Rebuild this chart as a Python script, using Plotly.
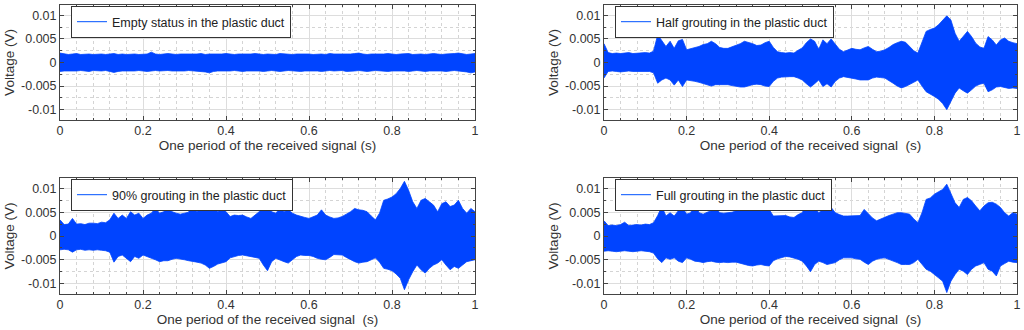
import plotly.graph_objects as go

# ---------------- data ----------------
time_s = [round(i * 0.01, 2) for i in range(101)]

legend_names = [
    "Empty status in the plastic duct",
    "Half grouting in the plastic duct",
    "90% grouting in the plastic duct",
    "Full grouting in the plastic duct",
]
x_titles = [
    "One period of the received signal (s)",
    "One period of the received signal  (s)",
    "One period of the received signal  (s)",
    "One period of the received signal  (s)",
]

# upper / lower envelope of each signal (V)
empty_upper = [0.0020, 0.0018, 0.0017, 0.0018, 0.0019, 0.0017, 0.0018, 0.0018, 0.0017, 0.0018,
               0.0018, 0.0017, 0.0018, 0.0019, 0.0017, 0.0018, 0.0017, 0.0018, 0.0018, 0.0017,
               0.0018, 0.0018, 0.0022, 0.0018, 0.0017, 0.0018, 0.0019, 0.0018, 0.0017, 0.0018,
               0.0018, 0.0017, 0.0018, 0.0018, 0.0019, 0.0017, 0.0018, 0.0018, 0.0017, 0.0018,
               0.0019, 0.0018, 0.0017, 0.0018, 0.0018, 0.0017, 0.0018, 0.0019, 0.0018, 0.0017,
               0.0018, 0.0018, 0.0017, 0.0019, 0.0018, 0.0018, 0.0017, 0.0018, 0.0018, 0.0019,
               0.0018, 0.0017, 0.0018, 0.0018, 0.0017, 0.0019, 0.0018, 0.0018, 0.0017, 0.0018,
               0.0018, 0.0019, 0.0020, 0.0018, 0.0017, 0.0018, 0.0018, 0.0017, 0.0018, 0.0019,
               0.0018, 0.0017, 0.0018, 0.0018, 0.0019, 0.0017, 0.0018, 0.0018, 0.0017, 0.0018,
               0.0019, 0.0018, 0.0017, 0.0018, 0.0018, 0.0019, 0.0020, 0.0018, 0.0017, 0.0018,
               0.0019]
empty_lower = [-0.0019, -0.0018, -0.0017, -0.0018, -0.0018, -0.0017, -0.0018, -0.0019, -0.0017, -0.0018,
               -0.0018, -0.0017, -0.0019, -0.0021, -0.0019, -0.0018, -0.0017, -0.0018, -0.0018, -0.0017,
               -0.0018, -0.0019, -0.0018, -0.0017, -0.0018, -0.0018, -0.0017, -0.0018, -0.0019, -0.0018,
               -0.0018, -0.0017, -0.0018, -0.0018, -0.0019, -0.0020, -0.0022, -0.0019, -0.0018, -0.0017,
               -0.0018, -0.0018, -0.0017, -0.0018, -0.0019, -0.0018, -0.0017, -0.0018, -0.0018, -0.0019,
               -0.0018, -0.0017, -0.0018, -0.0019, -0.0018, -0.0017, -0.0018, -0.0018, -0.0019, -0.0018,
               -0.0017, -0.0018, -0.0018, -0.0019, -0.0018, -0.0017, -0.0018, -0.0018, -0.0017, -0.0019,
               -0.0018, -0.0018, -0.0017, -0.0018, -0.0019, -0.0018, -0.0017, -0.0018, -0.0018, -0.0019,
               -0.0018, -0.0017, -0.0018, -0.0018, -0.0019, -0.0018, -0.0017, -0.0018, -0.0019, -0.0018,
               -0.0017, -0.0018, -0.0018, -0.0019, -0.0018, -0.0017, -0.0018, -0.0019, -0.0020, -0.0022,
               -0.0020]

half_upper = [0.0040, 0.0021, 0.0019, 0.0020, 0.0019, 0.0020, 0.0021, 0.0019, 0.0020, 0.0020,
              0.0021, 0.0020, 0.0024, 0.0059, 0.0045, 0.0034, 0.0045, 0.0030, 0.0046, 0.0049,
              0.0027, 0.0029, 0.0031, 0.0034, 0.0038, 0.0040, 0.0045, 0.0040, 0.0032, 0.0030,
              0.0030, 0.0033, 0.0037, 0.0040, 0.0045, 0.0043, 0.0040, 0.0036, 0.0037, 0.0042,
              0.0045, 0.0032, 0.0023, 0.0021, 0.0020, 0.0021, 0.0020, 0.0026, 0.0031, 0.0042,
              0.0050, 0.0045, 0.0028, 0.0048, 0.0040, 0.0050, 0.0040, 0.0028, 0.0023, 0.0026,
              0.0030, 0.0028, 0.0027, 0.0031, 0.0034, 0.0028, 0.0023, 0.0024, 0.0027, 0.0032,
              0.0038, 0.0042, 0.0045, 0.0043, 0.0034, 0.0025, 0.0020, 0.0045, 0.0066, 0.0070,
              0.0073, 0.0080, 0.0090, 0.0099, 0.0090, 0.0062, 0.0045, 0.0055, 0.0066, 0.0055,
              0.0041, 0.0033, 0.0030, 0.0055, 0.0048, 0.0037, 0.0048, 0.0052, 0.0045, 0.0042,
              0.0040]
half_lower = [-0.0033, -0.0019, -0.0018, -0.0019, -0.0020, -0.0019, -0.0018, -0.0019, -0.0019, -0.0020,
              -0.0019, -0.0019, -0.0022, -0.0044, -0.0037, -0.0033, -0.0037, -0.0048, -0.0037, -0.0051,
              -0.0037, -0.0038, -0.0040, -0.0042, -0.0044, -0.0047, -0.0050, -0.0047, -0.0048, -0.0047,
              -0.0047, -0.0049, -0.0051, -0.0052, -0.0052, -0.0049, -0.0047, -0.0046, -0.0047, -0.0050,
              -0.0051, -0.0040, -0.0033, -0.0031, -0.0030, -0.0030, -0.0030, -0.0033, -0.0037, -0.0045,
              -0.0052, -0.0045, -0.0037, -0.0051, -0.0045, -0.0052, -0.0040, -0.0033, -0.0030, -0.0032,
              -0.0033, -0.0035, -0.0037, -0.0037, -0.0037, -0.0033, -0.0031, -0.0032, -0.0033, -0.0038,
              -0.0044, -0.0050, -0.0054, -0.0051, -0.0047, -0.0042, -0.0037, -0.0050, -0.0062, -0.0067,
              -0.0072, -0.0078, -0.0087, -0.0100, -0.0083, -0.0065, -0.0054, -0.0060, -0.0065, -0.0058,
              -0.0050, -0.0046, -0.0044, -0.0062, -0.0058, -0.0052, -0.0051, -0.0053, -0.0055, -0.0054,
              -0.0055]

g90_upper = [0.0034, 0.0024, 0.0025, 0.0037, 0.0025, 0.0026, 0.0024, 0.0027, 0.0027, 0.0026,
             0.0029, 0.0028, 0.0034, 0.0048, 0.0037, 0.0044, 0.0037, 0.0051, 0.0044, 0.0048,
             0.0037, 0.0044, 0.0048, 0.0058, 0.0048, 0.0051, 0.0062, 0.0051, 0.0048, 0.0046,
             0.0048, 0.0050, 0.0075, 0.0051, 0.0058, 0.0062, 0.0065, 0.0062, 0.0051, 0.0058,
             0.0051, 0.0041, 0.0044, 0.0043, 0.0044, 0.0040, 0.0037, 0.0044, 0.0051, 0.0065,
             0.0075, 0.0051, 0.0048, 0.0058, 0.0051, 0.0055, 0.0048, 0.0044, 0.0041, 0.0039,
             0.0037, 0.0041, 0.0044, 0.0055, 0.0044, 0.0040, 0.0037, 0.0038, 0.0041, 0.0046,
             0.0051, 0.0058, 0.0055, 0.0054, 0.0051, 0.0042, 0.0034, 0.0048, 0.0075, 0.0078,
             0.0082, 0.0089, 0.0100, 0.0115, 0.0096, 0.0072, 0.0058, 0.0075, 0.0079, 0.0072,
             0.0065, 0.0051, 0.0068, 0.0072, 0.0062, 0.0065, 0.0075, 0.0058, 0.0048, 0.0058,
             0.0051]
g90_lower = [-0.0029, -0.0028, -0.0029, -0.0034, -0.0029, -0.0028, -0.0030, -0.0029, -0.0030, -0.0029,
             -0.0030, -0.0031, -0.0034, -0.0055, -0.0043, -0.0040, -0.0047, -0.0054, -0.0043, -0.0047,
             -0.0040, -0.0043, -0.0047, -0.0050, -0.0054, -0.0052, -0.0052, -0.0049, -0.0047, -0.0049,
             -0.0050, -0.0052, -0.0054, -0.0055, -0.0057, -0.0061, -0.0068, -0.0064, -0.0059, -0.0057,
             -0.0054, -0.0046, -0.0043, -0.0041, -0.0040, -0.0041, -0.0043, -0.0045, -0.0047, -0.0061,
             -0.0073, -0.0054, -0.0047, -0.0050, -0.0054, -0.0057, -0.0050, -0.0043, -0.0040, -0.0041,
             -0.0041, -0.0043, -0.0047, -0.0049, -0.0050, -0.0045, -0.0039, -0.0040, -0.0040, -0.0045,
             -0.0050, -0.0054, -0.0057, -0.0055, -0.0054, -0.0050, -0.0046, -0.0055, -0.0068, -0.0070,
             -0.0073, -0.0080, -0.0089, -0.0113, -0.0092, -0.0075, -0.0061, -0.0071, -0.0078, -0.0068,
             -0.0061, -0.0057, -0.0050, -0.0061, -0.0071, -0.0064, -0.0068, -0.0061, -0.0054, -0.0052,
             -0.0050]

full_upper = [0.0032, 0.0022, 0.0023, 0.0022, 0.0024, 0.0029, 0.0022, 0.0023, 0.0024, 0.0023,
              0.0025, 0.0024, 0.0028, 0.0043, 0.0062, 0.0042, 0.0049, 0.0042, 0.0053, 0.0060,
              0.0046, 0.0049, 0.0069, 0.0049, 0.0046, 0.0050, 0.0053, 0.0060, 0.0049, 0.0048,
              0.0049, 0.0050, 0.0053, 0.0054, 0.0056, 0.0060, 0.0062, 0.0056, 0.0053, 0.0060,
              0.0056, 0.0042, 0.0042, 0.0043, 0.0043, 0.0040, 0.0039, 0.0045, 0.0049, 0.0067,
              0.0071, 0.0060, 0.0049, 0.0056, 0.0053, 0.0060, 0.0049, 0.0045, 0.0042, 0.0042,
              0.0042, 0.0043, 0.0043, 0.0056, 0.0046, 0.0038, 0.0032, 0.0036, 0.0039, 0.0043,
              0.0046, 0.0049, 0.0049, 0.0048, 0.0046, 0.0036, 0.0028, 0.0049, 0.0077, 0.0080,
              0.0088, 0.0093, 0.0098, 0.0109, 0.0091, 0.0070, 0.0060, 0.0077, 0.0081, 0.0074,
              0.0063, 0.0053, 0.0063, 0.0070, 0.0071, 0.0067, 0.0060, 0.0049, 0.0042, 0.0049,
              0.0046]
full_lower = [-0.0032, -0.0031, -0.0032, -0.0033, -0.0032, -0.0031, -0.0032, -0.0033, -0.0032, -0.0031,
              -0.0032, -0.0033, -0.0036, -0.0048, -0.0056, -0.0046, -0.0049, -0.0046, -0.0053, -0.0056,
              -0.0046, -0.0049, -0.0053, -0.0054, -0.0056, -0.0054, -0.0053, -0.0055, -0.0056, -0.0055,
              -0.0056, -0.0055, -0.0055, -0.0057, -0.0060, -0.0062, -0.0063, -0.0061, -0.0060, -0.0062,
              -0.0063, -0.0052, -0.0048, -0.0045, -0.0043, -0.0044, -0.0046, -0.0049, -0.0053, -0.0063,
              -0.0075, -0.0060, -0.0053, -0.0056, -0.0060, -0.0058, -0.0056, -0.0050, -0.0046, -0.0046,
              -0.0046, -0.0048, -0.0049, -0.0055, -0.0060, -0.0053, -0.0049, -0.0047, -0.0046, -0.0050,
              -0.0053, -0.0056, -0.0060, -0.0060, -0.0060, -0.0056, -0.0049, -0.0060, -0.0070, -0.0074,
              -0.0081, -0.0088, -0.0095, -0.0119, -0.0095, -0.0081, -0.0070, -0.0074, -0.0081, -0.0070,
              -0.0063, -0.0060, -0.0056, -0.0070, -0.0074, -0.0084, -0.0063, -0.0058, -0.0053, -0.0055,
              -0.0056]

x_tick_vals = [0, 0.2, 0.4, 0.6, 0.8, 1]
x_tick_text = ["0", "0.2", "0.4", "0.6", "0.8", "1"]
y_tick_vals = [-0.01, -0.005, 0, 0.005, 0.01]
y_tick_text = ["-0.01", "-0.005", "0", "0.005", "0.01"]

# ---------------- figure ----------------
FILL = "#0044ff"
LEG_LINE = "#2f72ff"
AX = "#444444"
FONT = "Liberation Sans, Arial, Helvetica, sans-serif"

uppers = [empty_upper, half_upper, g90_upper, full_upper]
lowers = [empty_lower, half_lower, g90_lower, full_lower]

W, H = 1024, 330
xdoms = [(60, 475), (604, 1017), (60, 475), (604, 1017)]
ydoms = [(5, 120), (5, 120), (178, 294), (178, 294)]

fig = go.Figure()
for i in range(4):
    ax = "" if i == 0 else str(i + 1)
    leg = "legend" if i == 0 else f"legend{i + 1}"
    xs = time_s + time_s[::-1]
    ys = uppers[i] + lowers[i][::-1]
    fig.add_trace(go.Scatter(
        x=xs, y=ys, fill="toself", fillcolor=FILL, mode="lines",
        line=dict(color=FILL, width=0.8), showlegend=False,
        xaxis="x" + ax, yaxis="y" + ax, hoverinfo="skip"))
    fig.add_trace(go.Scatter(
        x=[None], y=[None], mode="lines", line=dict(color=LEG_LINE, width=1.2),
        name=legend_names[i], legend=leg, xaxis="x" + ax, yaxis="y" + ax))

    x0, x1 = xdoms[i]
    y0, y1 = ydoms[i]
    xaxis = dict(
        domain=[x0 / W, x1 / W], range=[0, 1], anchor="y" + ax,
        tickvals=x_tick_vals, ticktext=x_tick_text,
        ticks="inside", ticklen=4, tickcolor=AX,
        showline=True, linecolor=AX, linewidth=1, mirror="ticks",
        showgrid=True, gridcolor="#dddddd", gridwidth=1,
        minor=dict(dtick=0.04, tick0=0, ticks="inside", ticklen=2, tickcolor=AX,
                   showgrid=True, gridcolor="#d4d4d4", griddash="dot", gridwidth=1),
        zeroline=False, automargin=False, ticklabeloverflow="allow",
        ticklabelstandoff=-1,
        tickfont=dict(size=12.5, color="#333333", family=FONT),
        title=dict(text=x_titles[i], font=dict(size=13.5, color="#333333", family=FONT), standoff=0),
    )
    yaxis = dict(
        domain=[1 - y1 / H, 1 - y0 / H], range=[-0.0122, 0.0122], anchor="x" + ax,
        tickvals=y_tick_vals, ticktext=y_tick_text,
        ticks="inside", ticklen=4, tickcolor=AX,
        showline=True, linecolor=AX, linewidth=1, mirror="ticks",
        showgrid=True, gridcolor="#dddddd", gridwidth=1,
        minor=dict(dtick=0.0025, tick0=0, ticks="inside", ticklen=2, tickcolor=AX,
                   showgrid=True, gridcolor="#d4d4d4", griddash="dot", gridwidth=1),
        zeroline=False, automargin=False, ticklabeloverflow="allow",
        tickfont=dict(size=12.5, color="#333333", family=FONT),
        title=dict(text="Voltage (V)", font=dict(size=13.5, color="#333333", family=FONT), standoff=3),
    )
    fig.update_layout({"xaxis" + ax: xaxis, "yaxis" + ax: yaxis})
    fig.update_layout({leg: dict(
        x=(x0 + 11) / W, y=1 - (y0 + 1) / H, xanchor="left", yanchor="top",
        bgcolor="white", bordercolor="#333333", borderwidth=1,
        font=dict(size=12.5, color="#222222", family=FONT),
        itemwidth=30, tracegroupgap=0,
    )})

fig.update_layout(
    width=W, height=H, autosize=False,
    margin=dict(l=0, r=0, t=0, b=0),
    paper_bgcolor="white", plot_bgcolor="white",
    font=dict(family=FONT),
)

fig.write_html("out.html", config={"displayModeBar": False},
               post_script="document.body.style.margin='0';document.body.style.overflow='hidden';")
